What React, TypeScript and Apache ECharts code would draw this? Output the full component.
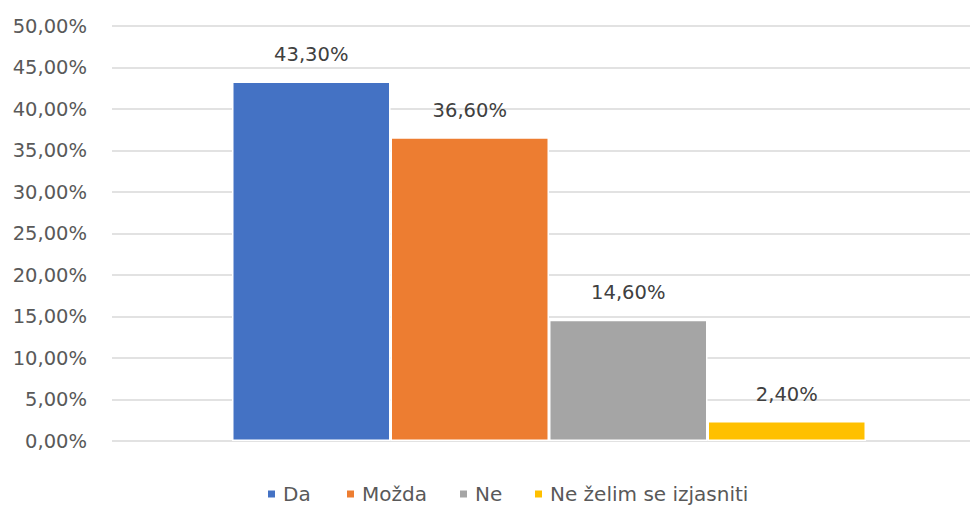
import React, { useEffect, useRef } from "react";
import * as echarts from "echarts";

const categories = [""];
const seriesNames = ["Da", "Možda", "Ne", "Ne želim se izjasniti"];
const seriesValues = [0.433, 0.366, 0.146, 0.024];
const seriesColors = ["#4472C4", "#ED7D31", "#A5A5A5", "#FFC000"];
const yTickMin = 0;
const yTickMax = 0.5;
const yTickStep = 0.05;
const legendLefts = [266, 345, 458, 533];

const fmt = (v: number) => (v * 100).toFixed(2).replace(".", ",") + "%";

export default function App() {
  const ref = useRef<HTMLDivElement>(null);
  useEffect(() => {
    if (!ref.current) return;
    const chart = echarts.init(ref.current, undefined, { renderer: "svg" });
    const numFont = "'DejaVu Sans', sans-serif";
    chart.setOption({
      animation: false,
      grid: { left: 112, top: 26, right: 0, height: 415, containLabel: false },
      xAxis: {
        type: "category",
        data: categories,
        axisLine: { show: false },
        axisTick: { show: false },
        axisLabel: { show: false },
      },
      yAxis: {
        type: "value",
        min: yTickMin,
        max: yTickMax,
        interval: yTickStep,
        axisLine: { show: false },
        axisTick: { show: false },
        axisLabel: {
          formatter: (v: number) => fmt(v),
          color: "#595959",
          fontSize: 19.5,
          fontFamily: numFont,
          margin: 25,
        },
        splitLine: { lineStyle: { color: "#D9D9D9", width: 1.5 } },
      },
      legend: seriesNames.map((name, i) => ({
        top: 484,
        left: legendLefts[i],
        icon: "rect",
        itemWidth: 9,
        itemHeight: 9,
        itemGap: 0,
        padding: 0,
        textStyle: { color: "#595959", fontSize: 20, fontFamily: numFont, padding: [0, 0, 0, 2] },
        data: [name],
      })),
      series: seriesNames.map((name, i) => ({
        name,
        type: "bar",
        data: [seriesValues[i]],
        barWidth: 158.5,
        barGap: "0%",
        itemStyle: { color: seriesColors[i], borderColor: "#fff", borderWidth: 1.5 },
        label: {
          show: true,
          position: "top",
          distance: 17,
          formatter: (p: any) => fmt(p.value),
          color: "#404040",
          fontSize: 19.5,
          fontFamily: numFont,
        },
      })),
    });
    return () => chart.dispose();
  }, []);
  return (
    <div style={{ width: 970, height: 505, position: "absolute", left: 0, top: 0, overflow: "hidden", background: "#fff" }}>
      <div ref={ref} style={{ width: 986, height: 505 }} />
    </div>
  );
}
